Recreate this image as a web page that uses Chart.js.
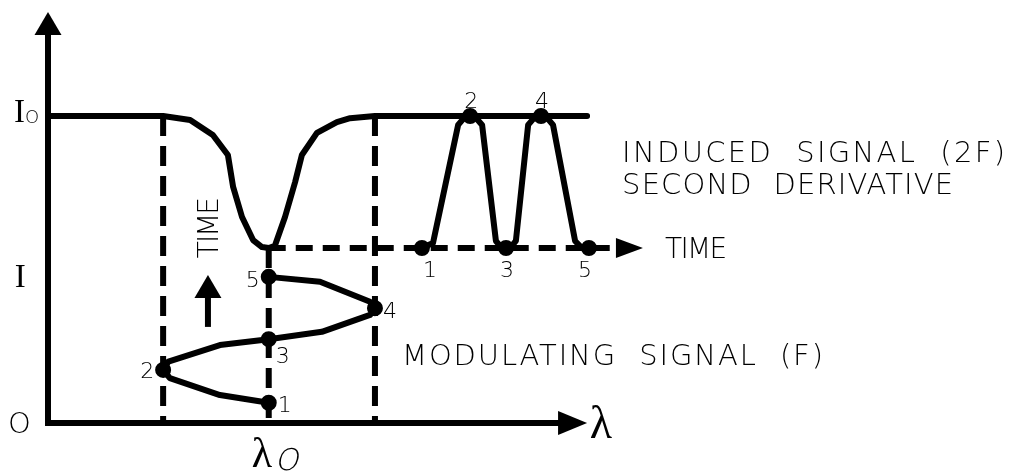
<!DOCTYPE html>
<html>
<head>
<meta charset="utf-8">
<script src="https://cdn.jsdelivr.net/npm/chart.js@4.4.1/dist/chart.umd.min.js"></script>
<style>
  html, body { margin: 0; padding: 0; background: #fff; }
  #wrap { width: 1011px; height: 472px; position: relative; }
</style>
</head>
<body>
<div id="wrap"><canvas id="diagram"></canvas></div>
<script>
// units: intensity with I0 = 100, wavelength on the same scale, origin at the axes corner
const I0 = 100;
const timeLevel = 57;

// absorption line of the gas (intensity vs wavelength)
const absorption = [
  [0, 100], [37.5, 100], [46.3, 98.7], [53.7, 93.8], [58.6, 87.3], [60.3, 76.9],
  [63.2, 67.1], [66.8, 59.6], [69.7, 57.3], [71.9, 57.0], [73.9, 57.7], [77.2, 67.1],
  [80.5, 78.5], [82.7, 87.3], [87.6, 94.5], [94.1, 98.0], [98.4, 99.3], [106.5, 100],
  [175.6, 100]
];

// dashed drop lines (lambda positions and their tops)
const dropLinesX = [37.5, 71.9, 106.5];
const dropLinesTop = [100, 57, 100];

// modulating signal (F), time runs upward, points 1..5
const modulating = [
  [71.9, 6.6], [56.0, 9.1], [39.7, 14.6], [37.5, 17.3], [39.2, 20.0], [56.0, 25.4],
  [71.9, 27.3], [89.2, 29.7], [104.9, 35.2], [106.5, 37.4], [104.9, 39.5], [88.6, 46.0],
  [71.9, 47.6]
];
const modulatingMarks = [0, 3, 6, 9, 12];

// induced signal (2F), time runs to the right, points 1..5
const induced = [
  [121.8, 57.0], [125.4, 58.6], [133.6, 97.1], [135.2, 99.0], [137.5, 100], [139.7, 99.0],
  [141.4, 97.1], [145.9, 59.3], [147.6, 57.3], [149.2, 57.0], [151.1, 57.7], [152.4, 59.3],
  [156.4, 97.1], [158.3, 99.3], [160.6, 100], [162.9, 99.0], [164.5, 97.1], [171.7, 59.3],
  [173.6, 57.3], [176.2, 57.0]
];
const inducedMarks = [0, 4, 9, 14, 19];
const markLabels = ["1", "2", "3", "4", "5"];

// axes and arrows
const axisLine = [[0, 127.5], [0, 0], [167, 0]];
const timeLine = [[71.9, timeLevel], [186, timeLevel]];
const timeArrowShaft = [[52.1, 31.3], [52.1, 42]];

// layout: where the origin sits and how many px per unit
const ORIGIN_X = 48, ORIGIN_Y = 423, PX = 3.07, W = 1011, H = 472;

const LIGHT = "'DejaVu Sans', sans-serif";
const SERIF = "'Liberation Serif', 'DejaVu Serif', serif";

const toPts = (arr) => arr.map(([x, y]) => ({ x, y }));

function lineSet(data, opts) {
  return Object.assign({
    data: toPts(data),
    showLine: true,
    borderColor: "#000",
    backgroundColor: "#000",
    borderWidth: 6,
    pointRadius: 0,
    tension: 0,
    borderJoinStyle: "round",
    borderCapStyle: "round",
  }, opts);
}

const datasets = [
  lineSet(absorption, { order: 1 }),
  lineSet(axisLine, { order: 0, borderJoinStyle: "miter", borderCapStyle: "butt" }),
  lineSet(modulating, {
    order: 0,
    pointRadius: (c) => (modulatingMarks.includes(c.dataIndex) ? 5 : 0),
  }),
  lineSet(induced, {
    order: 0,
    pointRadius: (c) => (inducedMarks.includes(c.dataIndex) ? 5 : 0),
  }),
  lineSet(timeLine, { order: 3, borderDash: [17, 10], borderCapStyle: "butt" }),
  lineSet(timeArrowShaft, { order: 0, borderCapStyle: "butt" }),
];
dropLinesX.forEach((x, i) => {
  datasets.push(lineSet([[x, dropLinesTop[i]], [x, 0]], {
    order: 3, borderDash: [20, 10], borderCapStyle: "butt",
  }));
});

function spaced(ctx, text, x, y, width) {
  ctx.letterSpacing = "0px";
  const w0 = ctx.measureText(text).width;
  const s = text.length > 1 ? (width - w0) / (text.length - 1) : 0;
  ctx.letterSpacing = s + "px";
  ctx.fillText(text, x, y);
  ctx.letterSpacing = "0px";
}

const decorations = {
  id: "decorations",
  afterDatasetsDraw(chart) {
    const ctx = chart.ctx;
    const sx = (v) => chart.scales.x.getPixelForValue(v);
    const sy = (v) => chart.scales.y.getPixelForValue(v);
    ctx.save();
    ctx.fillStyle = "#000";

    // arrowheads: tip, direction, length, half width
    const arrows = [
      [0, 133.9, 0, -1, 23, 13.5],
      [175.6, 0, 1, 0, 29, 12],
      [193.8, timeLevel, 1, 0, 27, 10],
      [52.1, 48.2, 0, -1, 23, 13.5],
    ];
    arrows.forEach(([x, y, dx, dy, len, hw]) => {
      const tx = sx(x), ty = sy(y);
      const bx = tx - dx * len, by = ty - dy * len;
      ctx.beginPath();
      ctx.moveTo(tx, ty);
      ctx.lineTo(bx - dy * hw, by + dx * hw);
      ctx.lineTo(bx + dy * hw, by - dx * hw);
      ctx.closePath();
      ctx.fill();
    });

    // numbers next to the marked points
    ctx.font = "200 22px " + LIGHT;
    ctx.textAlign = "center";
    ctx.textBaseline = "alphabetic";
    const modOffsets = [[16, 9], [-16, 8], [14, 24], [15, 10], [-16, 10]];
    modulatingMarks.forEach((idx, i) => {
      const [x, y] = modulating[idx];
      ctx.fillText(markLabels[i], sx(x) + modOffsets[i][0], sy(y) + modOffsets[i][1]);
    });
    const indOffsets = [[8, 29], [1, -8], [1, 29], [1, -8], [-4, 29]];
    inducedMarks.forEach((idx, i) => {
      const [x, y] = induced[idx];
      ctx.fillText(markLabels[i], sx(x) + indOffsets[i][0], sy(y) + indOffsets[i][1]);
    });

    // annotations
    ctx.textAlign = "left";
    ctx.font = "200 29px " + LIGHT;
    spaced(ctx, "INDUCED  SIGNAL  (2F)", sx(187.0), sy(85.0), 383);
    spaced(ctx, "SECOND  DERIVATIVE", sx(187.0), sy(74.6), 331);
    spaced(ctx, "MODULATING  SIGNAL  (F)", sx(115.3), sy(18.9), 421);
    ctx.font = "200 28px " + LIGHT;
    spaced(ctx, "TIME", sx(201.0), sy(53.7), 62);

    ctx.save();
    ctx.translate(sx(55.5), sy(63.8));
    ctx.rotate(-Math.PI / 2);
    spaced(ctx, "TIME", -31, 0, 61);
    ctx.restore();

    // axis labels
    ctx.font = "33px " + SERIF;
    ctx.fillText("I", sx(-11.1), sy(98.0));
    ctx.fillText("I", sx(-10.8), sy(44.3));
    ctx.font = "200 18px " + LIGHT;
    ctx.fillText("O", sx(-7.5), sy(97.7));
    ctx.font = "200 29px " + LIGHT;
    ctx.fillText("O", sx(-13.0), sy(-3.3));
    ctx.font = "46px " + SERIF;
    ctx.fillText("\u03bb", sx(176.5), sy(-4.9));
    ctx.font = "42px " + SERIF;
    ctx.fillText("\u03bb", sx(66.4), sy(-14.3));

    // slanted subscript O of lambda0
    ctx.save();
    ctx.translate(sx(73.9), sy(-15.3));
    ctx.transform(1, 0, -0.22, 1, 0, 0);
    ctx.font = "200 30px " + LIGHT;
    ctx.fillText("O", 0, 0);
    ctx.restore();

    ctx.restore();
  },
};

new Chart(document.getElementById("diagram"), {
  type: "scatter",
  data: { datasets },
  options: {
    responsive: true,
    maintainAspectRatio: false,
    animation: false,
    layout: { padding: 0, autoPadding: false },
    scales: {
      x: { type: "linear", display: false, min: -ORIGIN_X / PX, max: (W - ORIGIN_X) / PX },
      y: { type: "linear", display: false, min: -(H - ORIGIN_Y) / PX, max: ORIGIN_Y / PX },
    },
    plugins: { legend: { display: false }, tooltip: { enabled: false } },
    elements: { point: { borderWidth: 0 } },
  },
  plugins: [decorations],
});
</script>
</body>
</html>
